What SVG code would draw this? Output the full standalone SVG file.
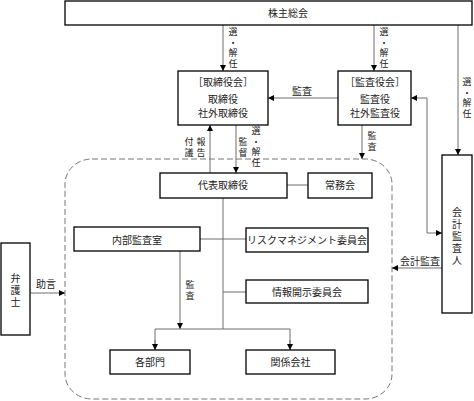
<svg xmlns="http://www.w3.org/2000/svg" width="474" height="401" viewBox="0 0 474 401">
<defs>
<style>
.box{fill:#fff;stroke:#000;stroke-width:1.3}
.ln{fill:none;stroke:#6e6e6e;stroke-width:1}
.t{font-family:"Noto Sans CJK JP","Noto Sans CJK SC",sans-serif;font-size:10px;fill:#222;text-anchor:middle}
.v{font-family:"Liberation Sans","Noto Sans CJK JP",sans-serif;font-size:9px;fill:#222;text-anchor:middle}
.v10{font-family:"Liberation Sans","Noto Sans CJK JP",sans-serif;font-size:10px;fill:#222;text-anchor:middle}
.dash{fill:none;stroke:#777;stroke-width:1;stroke-dasharray:6,3}
</style>
<marker id="ar" markerUnits="userSpaceOnUse" markerWidth="7" markerHeight="7" refX="6" refY="3" orient="auto">
<path d="M0,0 L6,3 L0,6 z" fill="#000"/>
</marker>
<marker id="as" markerUnits="userSpaceOnUse" markerWidth="7" markerHeight="7" refX="0" refY="3" orient="auto">
<path d="M6,0 L0,3 L6,6 z" fill="#000"/>
</marker>
</defs>
<rect width="474" height="401" fill="#fff"/>
<g id="group">
<rect class="dash" x="65" y="159" width="327" height="240" rx="27" ry="25"/>
</g>
<g id="connectors">
<line class="ln" x1="223" y1="25" x2="223" y2="71" marker-end="url(#ar)"/>
<line class="ln" x1="374" y1="25" x2="374" y2="71" marker-end="url(#ar)"/>
<line class="ln" x1="458" y1="25" x2="458" y2="155" marker-end="url(#ar)"/>
<line class="ln" x1="338" y1="98" x2="268" y2="98" marker-end="url(#ar)"/>
<polyline class="ln" points="411,98 427,98 427,233 442,233" marker-start="url(#as)" marker-end="url(#ar)"/>
<line class="ln" x1="362" y1="125" x2="362" y2="159" marker-end="url(#ar)"/>
<line class="ln" x1="210" y1="173" x2="210" y2="125" marker-end="url(#ar)"/>
<line class="ln" x1="236" y1="125" x2="236" y2="173" marker-end="url(#ar)"/>
<line class="ln" x1="287" y1="185" x2="308" y2="185"/>
<line class="ln" x1="223" y1="198" x2="223" y2="329"/>
<line class="ln" x1="200" y1="239" x2="246" y2="239"/>
<line class="ln" x1="223" y1="292" x2="246" y2="292"/>
<line class="ln" x1="180" y1="251" x2="180" y2="329" marker-end="url(#ar)"/>
<polyline class="ln" points="155,350 155,329 290,329 290,350"/>
<line class="ln" x1="155" y1="340" x2="155" y2="350" marker-end="url(#ar)"/>
<line class="ln" x1="290" y1="340" x2="290" y2="350" marker-end="url(#ar)"/>
<line class="ln" x1="442" y1="268" x2="392" y2="268" marker-end="url(#ar)"/>
<line class="ln" x1="30" y1="293" x2="65" y2="293" marker-end="url(#ar)"/>
</g>
<g id="labels">
<text class="v"><tspan x="233" y="35">選</tspan><tspan x="233" y="45.5">・</tspan><tspan x="233" y="56">解</tspan><tspan x="233" y="66.5">任</tspan></text>
<text class="v"><tspan x="384" y="35">選</tspan><tspan x="384" y="45.5">・</tspan><tspan x="384" y="56">解</tspan><tspan x="384" y="66.5">任</tspan></text>
<text class="v"><tspan x="467" y="85">選</tspan><tspan x="467" y="95.5">・</tspan><tspan x="467" y="106">解</tspan><tspan x="467" y="116.5">任</tspan></text>
<text class="t" x="302" y="94.5">監査</text>
<text class="v"><tspan x="372" y="139">監</tspan><tspan x="372" y="150">査</tspan></text>
<text class="v"><tspan x="189" y="145">付</tspan><tspan x="189" y="156">議</tspan></text>
<text class="v"><tspan x="201" y="145">報</tspan><tspan x="201" y="156">告</tspan></text>
<text class="v"><tspan x="243" y="145">監</tspan><tspan x="243" y="156">督</tspan></text>
<text class="v"><tspan x="256" y="134">選</tspan><tspan x="256" y="144.5">・</tspan><tspan x="256" y="155">解</tspan><tspan x="256" y="165.5">任</tspan></text>
<text class="v"><tspan x="190" y="288">監</tspan><tspan x="190" y="299">査</tspan></text>
<text class="t" x="420" y="264.5">会計監査</text>
<text class="t" x="46" y="287.5">助言</text>
</g>
<g id="n-kabunushi"><rect class="box" x="65" y="1" width="407" height="24"/><text class="t" x="288" y="16.5">株主総会</text></g>
<g id="n-torishimariyakukai"><rect class="box" x="178" y="71" width="90" height="54"/>
<text class="t" x="223" y="85.5">［取締役会］</text><text class="t" x="223" y="102.5">取締役</text><text class="t" x="223" y="116.5">社外取締役</text></g>
<g id="n-kansayakukai"><rect class="box" x="338" y="71" width="73" height="54"/>
<text class="t" x="375" y="85.5">［監査役会］</text><text class="t" x="375" y="102.5">監査役</text><text class="t" x="375" y="116.5">社外監査役</text></g>
<g id="n-daihyo"><rect class="box" x="160" y="173" width="127" height="25"/><text class="t" x="223" y="189">代表取締役</text></g>
<g id="n-jomukai"><rect class="box" x="308" y="173" width="64" height="25"/><text class="t" x="340" y="189">常務会</text></g>
<g id="n-naibu"><rect class="box" x="74" y="227" width="126" height="24"/><text class="t" x="137" y="243.5">内部監査室</text></g>
<g id="n-risk"><rect class="box" x="246" y="228" width="122" height="24"/><text class="t" x="307" y="243.5">リスクマネジメント委員会</text></g>
<g id="n-joho"><rect class="box" x="246" y="280" width="122" height="23"/><text class="t" x="307" y="295.5">情報開示委員会</text></g>
<g id="n-kakubumon"><rect class="box" x="110" y="350" width="80" height="24"/><text class="t" x="150" y="365.5">各部門</text></g>
<g id="n-kankei"><rect class="box" x="246" y="350" width="89" height="24"/><text class="t" x="290.5" y="365.5">関係会社</text></g>
<g id="n-kaikei"><rect class="box" x="442" y="155" width="30" height="158"/>
<text class="v10"><tspan x="457" y="215.5">会</tspan><tspan x="457" y="227.5">計</tspan><tspan x="457" y="239.5">監</tspan><tspan x="457" y="251.5">査</tspan><tspan x="457" y="263.5">人</tspan></text></g>
<g id="n-bengoshi"><rect class="box" x="1" y="243" width="29" height="92"/>
<text class="v10"><tspan x="15.5" y="281.5">弁</tspan><tspan x="15.5" y="293.5">護</tspan><tspan x="15.5" y="305.5">士</tspan></text></g>
</svg>
